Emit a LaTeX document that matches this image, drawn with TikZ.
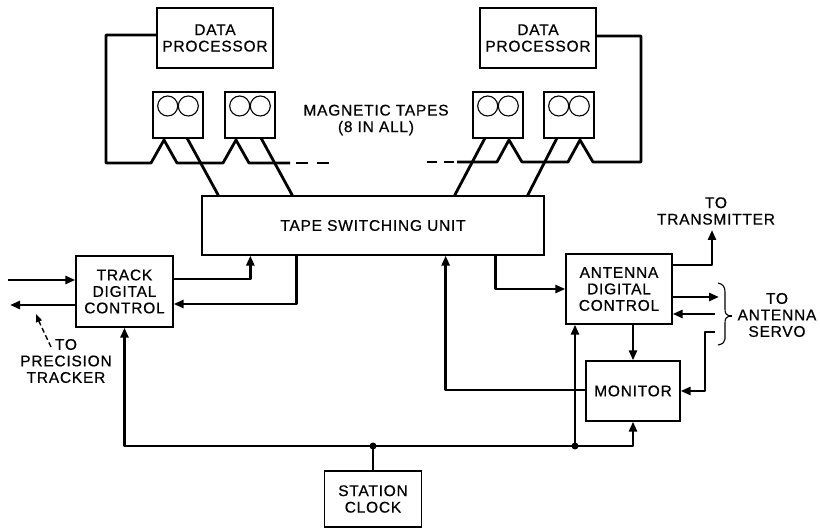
\documentclass[tikz,border=0pt]{standalone}
\usepackage{fontspec}
\newfontfamily\lblfont[LetterSpace=5,FakeBold=0.6]{Liberation Sans}
\usetikzlibrary{arrows.meta,calc}
\begin{document}
\begin{tikzpicture}[x=1pt,y=-1pt,
  txt/.style={font=\lblfont\fontsize{15.5}{16.5}\selectfont, align=center},
  box/.style={draw, line width=1.3pt, rectangle, inner sep=0pt, txt},
  tape/.style={box, minimum width=50pt, minimum height=46pt},
  reel/.style={line width=1.1pt},
  lbl/.style={inner sep=0pt, txt},
  conn/.style={line width=2.8pt, line join=round},
  arr/.style={conn, -{Triangle[length=10pt,width=8pt]}},
  dot/.style={circle, fill, inner sep=0pt, minimum size=7pt}
]
\useasboundingbox (0,0) rectangle (820,529);

% boxes
\node[box, minimum width=116pt, minimum height=60pt] (dp1) at (215,38) {DATA\\PROCESSOR};
\node[box, minimum width=116pt, minimum height=60pt] (dp2) at (538,38) {DATA\\PROCESSOR};
\node[tape] (t1) at (178,115) {};
\node[tape] (t2) at (250,115) {};
\node[tape] (t3) at (498,115) {};
\node[tape] (t4) at (569,115) {};
\node[box, minimum width=342pt, minimum height=59pt] (tsu) at (373,225.5) {TAPE SWITCHING UNIT};
\node[box, minimum width=97pt, minimum height=71pt] (tdc) at (124.5,291.5) {TRACK\\DIGITAL\\CONTROL};
\node[box, minimum width=106pt, minimum height=70pt] (adc) at (619,289) {ANTENNA\\DIGITAL\\CONTROL};
\node[box, minimum width=94pt, minimum height=60pt] (mon) at (633,391) {MONITOR};
\node[box, minimum width=97pt, minimum height=56pt] (clk) at (373,499) {STATION\\CLOCK};

% reels
\foreach \t in {t1,t2,t3,t4}{
  \draw[reel] ($(\t)+(-10.3,-9)$) circle[radius=10];
  \draw[reel] ($(\t)+(10.3,-9)$) circle[radius=10];
}

% labels
\node[lbl] (mt) at (376,120) {MAGNETIC TAPES\\(8 IN ALL)};
\node[lbl] (tx) at (716,211) {TO\\TRANSMITTER};
\node[lbl] (srv) at (777,315) {TO\\ANTENNA\\SERVO};
\node[lbl] (pt) at (66,361) {TO\\PRECISION\\TRACKER};

% tape bus left
\draw[conn] ($(dp1.west)+(0,-3)$) -| (106,163) -- (151,163) -- (164,140) -- (177,163)
  -- (223,163) -- (236,140) -- (249,163) -- (290,163);
\draw[conn, dash pattern=on 12pt off 9pt] (296,163) -- (329,163);
% tape bus right
\draw[conn, dash pattern=on 10pt off 7pt] (427,162) -- (454,162);
\draw[conn] (457,162) -- (497,162) -- (509,140) -- (522,162) -- (568,162) -- (580,140)
  -- (593,162) -- (641,162) |- ($(dp2.east)+(0,-2)$);

% tapes to switching unit
\draw[conn] (187,138) -- ($(tsu.north west)+(17,0)$);
\draw[conn] (261,138) -- ($(tsu.north west)+(91,0)$);
\draw[conn] (485,138) -- ($(tsu.north east)+(-90,0)$);
\draw[conn] (557,138) -- ($(tsu.north east)+(-17,0)$);

% track digital control
\coordinate (tin) at (8,280);
\coordinate (tout) at (10,305);
\draw[arr] (tin) -- (tdc.west |- tin);
\draw[arr] (tdc.west |- tout) -- (tout);
\draw[line width=1.4pt, dash pattern=on 5pt off 3pt, -{Triangle[length=8pt,width=6pt]}]
  (51,347) .. controls (44,334) .. (36,314);
\draw[arr] (tdc.east |- 0,279) -| ($(tsu.south west)+(49,0)$);
\draw[arr] ($(tsu.south west)+(95,0)$) |- (tdc.east |- 0,304);

% antenna digital control
\draw[arr] ($(tsu.south east)+(-49,0)$) |- (adc.west |- 0,289);
\draw[arr] (adc.east |- 0,265) -| (712,230);
\draw[arr] (adc.east |- 0,297) -- (719,297);
\draw[arr] (715,314) -- (adc.east |- 0,314);
\draw[arr] (715,332) -- (705,332) |- (mon.east);
\draw[arr] (633,0 |- adc.south) -- (633,0 |- mon.north);
\draw[arr] (mon.west |- 0,390) -| ($(tsu.south east)+(-99,0)$);

% brace
\draw[line width=1.1pt] (718,283) .. controls (723,284) and (725,287) .. (725,292) -- (725,309)
  .. controls (725,313) and (726,315) .. (729,316) .. controls (726,317) and (725,319) .. (725,323)
  -- (725,339) .. controls (725,342) and (723,344) .. (718,345);
\draw[line width=1.1pt] (728,316) -- (732,316);

% clock bus
\coordinate (j1) at (373,446);
\coordinate (j2) at (575,446);
\draw[conn] (clk.north) -- (j1);
\draw[arr] (j1) -| (tdc.south);
\draw[arr] (j1) -| (mon.south);
\draw[arr] (j2) -- (j2 |- adc.south);
\node[dot] at (j1) {};
\node[dot] at (j2) {};
\end{tikzpicture}
\end{document}
